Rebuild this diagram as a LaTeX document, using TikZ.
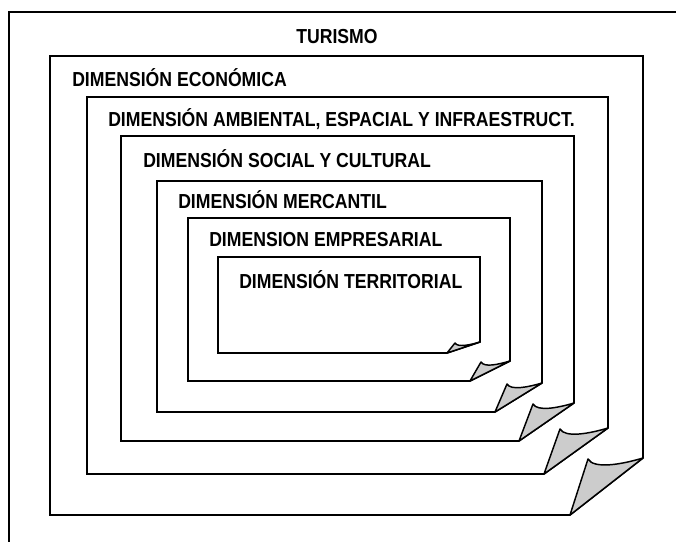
\documentclass[tikz,border=0pt]{standalone}
\usepackage{fontspec}
\newfontfamily\lblfont{Liberation Sans}[FakeStretch=0.87]
\definecolor{flapgray}{RGB}{204,204,204}
\tikzset{
  boxline/.style={draw=black, line width=1.2pt, fill=white, line join=miter},
  flapshape/.style={draw=black, line width=1.1pt, fill=flapgray, line join=round},
  lbl/.style={font=\lblfont\bfseries\fontsize{15.2}{18}\selectfont, inner sep=0pt, anchor=base west},
}
% name, L, T, R, B, dx, dy, tip x offset
\newcommand\foldbox[8]{%
  \draw[boxline] (#2,#3) -- (#4,#3) -- (#4,#5-#7) -- (#4-#6,#5) -- (#2,#5) -- cycle;
  \coordinate (#1-cut) at (#4-#6,#5);
  \coordinate (#1-tip) at (#4-#6+#8,#5-#7+1);
  \coordinate (#1-end) at (#4,#5-#7);
  \draw[flapshape] (#1-cut) -- (#1-tip) .. controls +(0.08*#6,0.14*#6) and +(-0.3*#6,0.09*#6) .. (#1-end) -- cycle;
}
\begin{document}
\begin{tikzpicture}[x=0.75pt,y=-0.75pt]
\useasboundingbox (0,0) rectangle (676,542);
\fill[white] (0,0) rectangle (676,542);
% outer frame (open to the right and bottom)
\draw[line width=1.2pt] (9,545) -- (9,12) -- (680,12);
\node[lbl, anchor=base] (turismo) at (337,44) {TURISMO};
\foldbox{b1}{50}{56}{643}{515}{73}{57}{18}
\foldbox{b2}{87}{97}{608}{474}{64}{46}{16}
\foldbox{b3}{121}{136}{574}{441}{55}{38}{14}
\foldbox{b4}{157}{181}{542}{412}{47}{29}{12}
\foldbox{b5}{188}{218}{510}{381}{40}{20}{11}
\foldbox{b6}{218}{257}{480}{353}{33}{11}{8}
\node[lbl] (econ) at (72,87) {DIMENSIÓN ECONÓMICA};
\node[lbl] (amb) at (108,127) {DIMENSIÓN AMBIENTAL, ESPACIAL Y INFRAESTRUCT.};
\node[lbl] (soc) at (143,168) {DIMENSIÓN SOCIAL Y CULTURAL};
\node[lbl] (merc) at (178,209) {DIMENSIÓN MERCANTIL};
\node[lbl] (emp) at (209,247) {DIMENSION EMPRESARIAL};
\node[lbl] (terr) at (239,288) {DIMENSIÓN TERRITORIAL};
\end{tikzpicture}
\end{document}
